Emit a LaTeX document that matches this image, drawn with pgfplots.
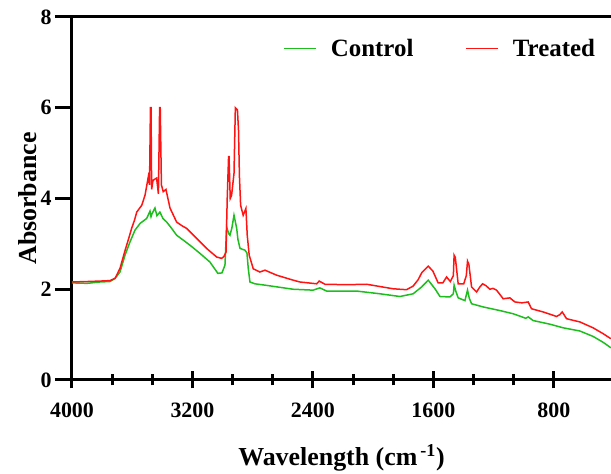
\documentclass[border=0pt]{standalone}
\usepackage{fontspec}
\setmainfont{Liberation Serif}
\usepackage{pgfplots}
\pgfplotsset{compat=1.18}

\definecolor{ctrlgreen}{RGB}{30,190,30}
\definecolor{treatred}{RGB}{255,20,20}

\begin{document}
\begin{tikzpicture}
\begin{axis}[
  scale only axis,
  width=539bp, height=363bp,
  x dir=reverse,
  xmin=420, xmax=4000,
  ymin=0, ymax=8,
  xtick={4000,3200,2400,1600,800},
  minor x tick num=2,
  ytick={0,2,4,6,8},
  axis x line=box,
  axis y line=left,
  axis line style={-, line width=3bp},
  every tick/.style={black, line width=3bp},
  xtick align=center,
  ytick align=outside,
  major tick length=17bp,
  minor tick length=11bp,
  xtick pos=bottom,
  /pgf/number format/assume math mode=true,
  /pgf/number format/1000 sep={},
  ticklabel style={font=\bfseries\fontsize{22}{26}\selectfont},
  xticklabel style={yshift=-11bp},
  xlabel={Wavelength (cm\textsuperscript{\,-1})},
  ylabel={Absorbance},
  label style={font=\bfseries\fontsize{26}{30}\selectfont},
  xlabel style={at={(axis description cs:0.5,-0.215)}, anchor=center},
  ylabel style={at={(axis description cs:-0.082,0.5)}, anchor=center},
  legend columns=2,
  legend style={at={(0.98,0.95)}, anchor=north east, draw=none, fill=none,
    font=\bfseries\fontsize{25}{29}\selectfont,
    /tikz/every odd column/.append style={column sep=12bp},
    /tikz/every even column/.append style={column sep=50bp}},
  legend image code/.code={\draw[#1, line width=1.5bp] (0bp,0bp) -- (32bp,0bp);},
  every axis plot/.append style={line width=1.5bp},
]
\coordinate (sw) at (rel axis cs:0,0);
\coordinate (ne) at (rel axis cs:1,1);

% Control
\addplot[ctrlgreen] coordinates {
  (4000,2.14) (3900,2.13) (3814,2.16) (3748,2.17) (3714,2.24) (3681,2.38)
  (3648,2.75) (3615,3.04) (3582,3.30) (3548,3.45) (3520,3.52) (3504,3.56)
  (3482,3.72) (3475,3.60) (3469,3.66) (3449,3.79) (3436,3.62) (3416,3.70)
  (3396,3.56) (3371,3.48) (3340,3.35) (3305,3.19) (3260,3.08) (3216,2.97)
  (3150,2.79) (3084,2.60) (3031,2.35) (3004,2.36) (2984,2.53) (2973,3.37)
  (2958,3.22) (2951,3.19) (2938,3.35) (2924,3.63) (2906,3.34) (2898,3.10)
  (2884,2.90) (2851,2.86) (2838,2.80) (2829,2.45) (2818,2.16) (2785,2.12)
  (2718,2.09) (2531,2.00) (2398,1.98) (2354,2.03) (2309,1.96) (2110,1.96)
  (1955,1.90) (1822,1.84) (1734,1.90) (1678,2.05) (1634,2.20) (1589,2.01)
  (1556,1.84) (1490,1.83) (1467,1.90) (1462,2.09) (1450,1.95) (1435,1.81)
  (1390,1.75) (1373,1.98) (1361,1.80) (1346,1.68) (1269,1.61) (1158,1.53)
  (1070,1.46) (986,1.36) (970,1.39) (937,1.31) (826,1.23) (738,1.15)
  (627,1.08) (539,0.96) (472,0.83) (421,0.71)
};
\addlegendentry{Control}

% Treated
\addplot[treatred] coordinates {
  (4000,2.16) (3900,2.17) (3814,2.18) (3748,2.19) (3714,2.24) (3681,2.46)
  (3648,2.85) (3625,3.10) (3604,3.34) (3585,3.52) (3570,3.70) (3537,3.85)
  (3515,4.07) (3493,4.48) (3485,4.30) (3479,6.00) (3475,6.00) (3471,4.20)
  (3462,4.40) (3438,4.45) (3426,4.10) (3418,6.00) (3414,6.00) (3406,4.30)
  (3394,4.15) (3376,4.20) (3349,3.79) (3305,3.48) (3270,3.40) (3238,3.34)
  (3172,3.12) (3106,2.90) (3039,2.71) (3006,2.68) (2991,2.72) (2977,2.82)
  (2969,4.00) (2960,4.92) (2957,4.92) (2949,4.00) (2940,4.07) (2924,4.55)
  (2915,6.00) (2901,5.95) (2894,5.50) (2888,4.50) (2880,3.85) (2863,3.63)
  (2845,3.78) (2836,3.19) (2823,2.75) (2796,2.45) (2752,2.38) (2718,2.42)
  (2641,2.31) (2531,2.20) (2486,2.16) (2375,2.12) (2358,2.18) (2320,2.11)
  (2176,2.10) (2043,2.11) (1955,2.06) (1867,2.01) (1778,1.99) (1734,2.07)
  (1701,2.21) (1676,2.37) (1634,2.51) (1603,2.40) (1568,2.14) (1537,2.14)
  (1512,2.27) (1487,2.17) (1467,2.30) (1462,2.75) (1454,2.70) (1435,2.12)
  (1398,2.12) (1381,2.30) (1373,2.62) (1364,2.55) (1346,2.05) (1313,1.94)
  (1291,2.05) (1273,2.12) (1251,2.08) (1224,2.00) (1204,2.02) (1180,1.98)
  (1136,1.79) (1092,1.81) (1058,1.72) (1012,1.70) (970,1.72) (948,1.57)
  (871,1.50) (782,1.40) (760,1.44) (744,1.50) (715,1.35) (627,1.28)
  (539,1.15) (472,1.02) (421,0.91)
};
\addlegendentry{Treated}
\end{axis}
\pgfresetboundingbox
\path ([shift={(-72bp,-94bp)}]sw) rectangle ([shift={(0bp,17bp)}]ne);
\end{tikzpicture}
\end{document}
